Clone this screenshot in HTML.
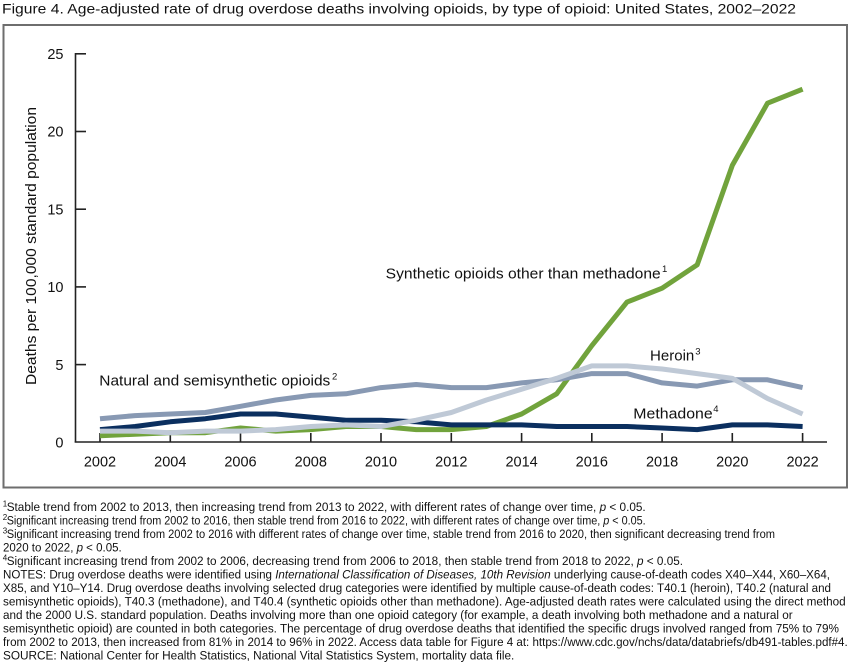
<!DOCTYPE html>
<html>
<head>
<meta charset="utf-8">
<style>
html,body{margin:0;padding:0;background:#fff;}
body{width:850px;height:664px;overflow:hidden;}
svg{display:block;font-family:"Liberation Sans",Arial,sans-serif;}
</style>
</head>
<body>
<svg width="850" height="664" viewBox="0 0 850 664" xmlns="http://www.w3.org/2000/svg">
<rect x="0" y="0" width="850" height="664" fill="#fff"/>
<!-- Title -->
<text x="2" y="13.5" font-size="14" fill="#111" textLength="794" lengthAdjust="spacingAndGlyphs">Figure 4. Age-adjusted rate of drug overdose deaths involving opioids, by type of opioid: United States, 2002–2022</text>
<!-- Frame -->
<rect x="3.5" y="25" width="843.5" height="462.5" fill="none" stroke="#6e6e6e" stroke-width="2"/>

<!-- Axes -->
<g stroke="#222" stroke-width="1.6" fill="none">
  <line x1="75.5" y1="53" x2="75.5" y2="442.5"/>
  <line x1="74.7" y1="442" x2="827" y2="442"/>
  <!-- y ticks -->
  <line x1="75" y1="53.8" x2="86" y2="53.8"/>
  <line x1="75" y1="131.5" x2="86" y2="131.5"/>
  <line x1="75" y1="209.2" x2="86" y2="209.2"/>
  <line x1="75" y1="286.9" x2="86" y2="286.9"/>
  <line x1="75" y1="364.6" x2="86" y2="364.6"/>
  <!-- x ticks -->
  <line x1="100" y1="433" x2="100" y2="442"/>
  <line x1="170.3" y1="433" x2="170.3" y2="442"/>
  <line x1="240.5" y1="433" x2="240.5" y2="442"/>
  <line x1="310.8" y1="433" x2="310.8" y2="442"/>
  <line x1="381" y1="433" x2="381" y2="442"/>
  <line x1="451.3" y1="433" x2="451.3" y2="442"/>
  <line x1="521.6" y1="433" x2="521.6" y2="442"/>
  <line x1="591.8" y1="433" x2="591.8" y2="442"/>
  <line x1="662.1" y1="433" x2="662.1" y2="442"/>
  <line x1="732.3" y1="433" x2="732.3" y2="442"/>
  <line x1="802.6" y1="433" x2="802.6" y2="442"/>
</g>

<!-- Y tick labels -->
<g font-size="14.5" fill="#111" text-anchor="end">
  <text x="63.5" y="59">25</text>
  <text x="63.5" y="136.7">20</text>
  <text x="63.5" y="214.4">15</text>
  <text x="63.5" y="292.1">10</text>
  <text x="63.5" y="369.8">5</text>
  <text x="63.5" y="447.5">0</text>
</g>
<!-- X tick labels -->
<g font-size="14.5" fill="#111" text-anchor="middle">
  <text x="100" y="466.5">2002</text>
  <text x="170.3" y="466.5">2004</text>
  <text x="240.5" y="466.5">2006</text>
  <text x="310.8" y="466.5">2008</text>
  <text x="381" y="466.5">2010</text>
  <text x="451.3" y="466.5">2012</text>
  <text x="521.6" y="466.5">2014</text>
  <text x="591.8" y="466.5">2016</text>
  <text x="662.1" y="466.5">2018</text>
  <text x="732.3" y="466.5">2020</text>
  <text x="802.6" y="466.5">2022</text>
</g>
<!-- Y axis title -->
<text transform="translate(36,246) rotate(-90)" x="0" y="0" font-size="14.5" fill="#111" text-anchor="middle" textLength="278" lengthAdjust="spacingAndGlyphs">Deaths per 100,000 standard population</text>

<!-- Series -->
<g fill="none" stroke-width="5" stroke-linejoin="round" stroke-linecap="butt">
  <polyline stroke="#71a33c" points="100,435.8 135.1,434.2 170.3,432.7 205.4,432.7 240.5,428.0 275.7,431.1 310.8,429.6 345.9,426.5 381.0,426.5 416.2,429.6 451.3,429.6 486.4,426.5 521.6,414.0 556.7,393.8 591.8,345.7 627.0,302.1 662.1,288.2 697.2,264.8 732.3,165.4 767.5,103.2 802.6,89.2"/>
  <polyline stroke="#0b2f5f" points="100,429.6 135.1,426.5 170.3,421.8 205.4,418.7 240.5,414.0 275.7,414.0 310.8,417.1 345.9,420.2 381.0,420.2 416.2,421.8 451.3,424.9 486.4,424.9 521.6,424.9 556.7,426.5 591.8,426.5 627.0,426.5 662.1,428.0 697.2,429.6 732.3,424.9 767.5,424.9 802.6,426.5"/>
  <polyline stroke="#8899b3" points="100,418.7 135.1,415.6 170.3,414.0 205.4,412.5 240.5,406.3 275.7,400.0 310.8,395.4 345.9,393.8 381.0,387.6 416.2,384.5 451.3,387.6 486.4,387.6 521.6,382.9 556.7,379.8 591.8,373.6 627.0,373.6 662.1,382.9 697.2,386.1 732.3,379.8 767.5,379.8 802.6,387.6"/>
  <polyline stroke="#bfc9d6" points="100,431.1 135.1,431.1 170.3,432.7 205.4,431.1 240.5,431.1 275.7,429.6 310.8,426.5 345.9,424.9 381.0,426.5 416.2,420.2 451.3,412.5 486.4,400.0 521.6,389.2 556.7,378.3 591.8,365.9 627.0,365.9 662.1,369.0 697.2,373.6 732.3,378.3 767.5,398.5 802.6,414.0"/>
</g>

<!-- Series labels -->
<g fill="#111">
  <text x="385.7" y="278.3" font-size="15" textLength="275" lengthAdjust="spacingAndGlyphs">Synthetic opioids other than methadone</text>
  <text x="662" y="272" font-size="9.5">1</text>
  <text x="99.3" y="385.7" font-size="15" textLength="231" lengthAdjust="spacingAndGlyphs">Natural and semisynthetic opioids</text>
  <text x="332" y="379.5" font-size="9.5">2</text>
  <text x="650" y="360.7" font-size="15" textLength="44.3" lengthAdjust="spacingAndGlyphs">Heroin</text>
  <text x="695.3" y="354.5" font-size="9.5">3</text>
  <text x="633.3" y="418.3" font-size="15" textLength="79.4" lengthAdjust="spacingAndGlyphs">Methadone</text>
  <text x="713.3" y="412" font-size="9.5">4</text>
</g>

<!-- Footnotes -->
<g fill="#111" font-size="12.2">
  <text x="2.7" y="506.5" font-size="8">1</text>
  <text x="6.7" y="511" textLength="639" lengthAdjust="spacingAndGlyphs">Stable trend from 2002 to 2013, then increasing trend from 2013 to 2022, with different rates of change over time, <tspan font-style="italic">p</tspan> &lt; 0.05.</text>
  <text x="2.7" y="520" font-size="8">2</text>
  <text x="6.7" y="524.5" textLength="639" lengthAdjust="spacingAndGlyphs">Significant increasing trend from 2002 to 2016, then stable trend from 2016 to 2022, with different rates of change over time, <tspan font-style="italic">p</tspan> &lt; 0.05.</text>
  <text x="2.7" y="533.5" font-size="8">3</text>
  <text x="6.7" y="538" textLength="768.3" lengthAdjust="spacingAndGlyphs">Significant increasing trend from 2002 to 2016 with different rates of change over time, stable trend from 2016 to 2020, then significant decreasing trend from</text>
  <text x="3" y="551.5" textLength="118.7" lengthAdjust="spacingAndGlyphs">2020 to 2022, <tspan font-style="italic">p</tspan> &lt; 0.05.</text>
  <text x="2.7" y="560.5" font-size="8">4</text>
  <text x="6.7" y="565" textLength="676.3" lengthAdjust="spacingAndGlyphs">Significant increasing trend from 2002 to 2006, decreasing trend from 2006 to 2018, then stable trend from 2018 to 2022, <tspan font-style="italic">p</tspan> &lt; 0.05.</text>
  <text x="3" y="578.5" textLength="827" lengthAdjust="spacingAndGlyphs">NOTES: Drug overdose deaths were identified using <tspan font-style="italic">International Classification of Diseases, 10th Revision</tspan> underlying cause-of-death codes X40–X44, X60–X64,</text>
  <text x="3" y="592" textLength="828" lengthAdjust="spacingAndGlyphs">X85, and Y10–Y14. Drug overdose deaths involving selected drug categories were identified by multiple cause-of-death codes: T40.1 (heroin), T40.2 (natural and</text>
  <text x="3" y="605.5" textLength="842.7" lengthAdjust="spacingAndGlyphs">semisynthetic opioids), T40.3 (methadone), and T40.4 (synthetic opioids other than methadone). Age-adjusted death rates were calculated using the direct method</text>
  <text x="3" y="619" textLength="789.7" lengthAdjust="spacingAndGlyphs">and the 2000 U.S. standard population. Deaths involving more than one opioid category (for example, a death involving both methadone and a natural or</text>
  <text x="3" y="632.5" textLength="836" lengthAdjust="spacingAndGlyphs">semisynthetic opioid) are counted in both categories. The percentage of drug overdose deaths that identified the specific drugs involved ranged from 75% to 79%</text>
  <text x="3" y="646" textLength="844.7" lengthAdjust="spacingAndGlyphs">from 2002 to 2013, then increased from 81% in 2014 to 96% in 2022. Access data table for Figure 4 at: https://www.cdc.gov/nchs/data/databriefs/db491-tables.pdf#4.</text>
  <text x="3" y="659.5" textLength="511.3" lengthAdjust="spacingAndGlyphs">SOURCE: National Center for Health Statistics, National Vital Statistics System, mortality data file.</text>
</g>
</svg>
</body>
</html>
